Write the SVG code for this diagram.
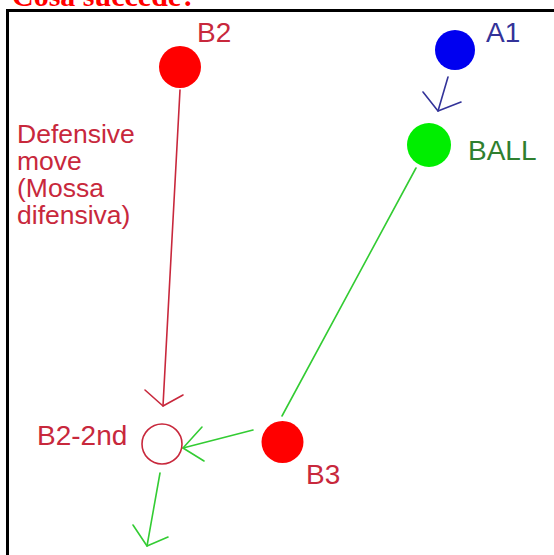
<svg xmlns="http://www.w3.org/2000/svg" width="554" height="555" viewBox="0 0 554 555">
<style>
.lbl{font-family:"Liberation Sans",Arial,sans-serif;font-size:28px}
.small{font-size:26.5px}
.red{fill:#c8283c}
.conn line,.conn polyline{fill:none;stroke-width:1.6;stroke-linecap:round;stroke-linejoin:round}
.g{stroke:#33cc33}
.b{stroke:#333399}
.r{stroke:#c8283c}
</style>
<rect width="554" height="555" fill="#fff"/>
<text x="12" y="6" font-family="'Liberation Serif',serif" font-weight="bold" font-size="30" fill="#ff0000">Cosa succede?</text>
<rect x="7.5" y="10.5" width="560" height="560" fill="none" stroke="#000" stroke-width="3"/>
<g id="connectors" class="conn">
<line class="b" x1="448" y1="77" x2="438" y2="111"/>
<polyline class="b" points="423,92 438,111 461,102"/>
<line class="g" x1="416" y1="168" x2="282" y2="416"/>
<line class="r" x1="180" y1="90" x2="163" y2="406"/>
<polyline class="r" points="145,390 163,406 183,395"/>
<line class="g" x1="253" y1="430" x2="183" y2="448"/>
<polyline class="g" points="202,427 183,448 204,461"/>
<line class="g" x1="160" y1="473" x2="147" y2="546"/>
<polyline class="g" points="133,525 147,546 168,537"/>
</g>
<g id="B2">
<circle cx="180" cy="67" r="21" fill="#ff0000"/>
<text class="lbl red" x="197" y="42">B2</text>
</g>
<g id="A1">
<circle cx="455" cy="50" r="20" fill="#0000f0"/>
<text class="lbl" x="486" y="42" fill="#333399">A1</text>
</g>
<g id="BALL">
<circle cx="429" cy="145" r="22" fill="#00ee00"/>
<text class="lbl" x="468" y="160" fill="#2f7f2f">BALL</text>
</g>
<g id="B3">
<circle cx="282.5" cy="442" r="21" fill="#ff0000"/>
<text class="lbl red" x="306" y="484">B3</text>
</g>
<g id="B2-2nd">
<circle cx="162" cy="444" r="20" fill="none" stroke="#c8283c" stroke-width="1.6"/>
<text class="lbl red" x="37" y="445">B2-2nd</text>
</g>
<g id="defensive-label">
<text class="lbl small red"><tspan x="17" y="143">Defensive</tspan><tspan x="17" y="170">move</tspan><tspan x="17" y="197">(Mossa</tspan><tspan x="17" y="224">difensiva)</tspan></text>
</g>
</svg>
